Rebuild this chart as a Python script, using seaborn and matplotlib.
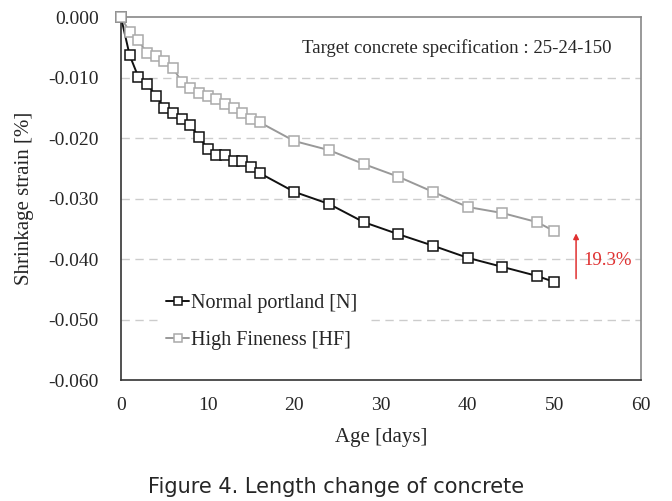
import matplotlib
matplotlib.use("Agg")
import matplotlib.pyplot as plt
import seaborn as sns
import pandas as pd

# Shrinkage data
ageDays = [0, 1, 2, 3, 4, 5, 6, 7, 8, 9, 10, 11, 12, 13, 14, 15, 16,
           20, 24, 28, 32, 36, 40, 44, 48, 50]
normalStrain = [0.0, -0.0063, -0.0099, -0.0110, -0.0130, -0.0150, -0.0159, -0.0169,
                -0.0179, -0.0198, -0.0218, -0.0228, -0.0228, -0.0238, -0.0238,
                -0.0248, -0.0258, -0.0289, -0.0309, -0.0339, -0.0359, -0.0378,
                -0.0398, -0.0413, -0.0428, -0.0438]
highFineStrain = [0.0, -0.0025, -0.0038, -0.0060, -0.0065, -0.0073, -0.0084, -0.0107,
                  -0.0118, -0.0126, -0.0131, -0.0136, -0.0144, -0.0150, -0.0159,
                  -0.0169, -0.0174, -0.0205, -0.0220, -0.0243, -0.0264, -0.0289,
                  -0.0314, -0.0324, -0.0339, -0.0354]
seriesNames = ["Normal portland [N]", "High Fineness [HF]"]
seriesColors = ["#111111", "#999999"]
markerEdges = ["#111111", "#aaaaaa"]
yTicks = [0.0, -0.01, -0.02, -0.03, -0.04, -0.05, -0.06]
xTicks = [0, 10, 20, 30, 40, 50, 60]
diffLabel = "19.3%"

sns.set_style("white")
plt.rcParams["font.family"] = ["Liberation Serif", "DejaVu Serif"]

df = pd.DataFrame({
    "age": ageDays * 2,
    "strain": normalStrain + highFineStrain,
    "series": [seriesNames[0]] * len(ageDays) + [seriesNames[1]] * len(ageDays),
})

fig = plt.figure(figsize=(6.72, 5.01), dpi=100)
ax = fig.add_axes([0.180, 0.2415, 0.774, 0.7245])

for name, col, edge in zip(seriesNames, seriesColors, markerEdges):
    sub = df[df["series"] == name]
    sns.lineplot(data=sub, x="age", y="strain", ax=ax, color=col, marker="s",
                 markersize=6.5, markerfacecolor="white", markeredgecolor=edge,
                 markeredgewidth=1.1, linewidth=1.4, label=name, sort=False,
                 clip_on=False, zorder=3)

ax.set_xlim(0, 60)
ax.set_ylim(-0.06, 0.0)
ax.set_xticks(xTicks)
ax.set_yticks(yTicks)
ax.set_yticklabels([f"{v:.3f}" if v != 0 else "0.000" for v in yTicks])
ax.tick_params(direction="in", length=5, labelsize=14, color="#333333")
ax.tick_params(axis="y", pad=16)
ax.tick_params(axis="x", pad=12)
ax.set_xlabel("Age [days]", fontsize=15, labelpad=10)
ax.set_ylabel("Shrinkage strain [%]", fontsize=15, labelpad=10)

for yv in yTicks[1:-1]:
    ax.axhline(yv, color="#cccccc", linestyle=(0, (6, 4)), linewidth=1, zorder=0)

ax.spines["left"].set_color("#333333")
ax.spines["bottom"].set_color("#333333")
ax.spines["top"].set_color("#888888")
ax.spines["right"].set_color("#888888")
for s in ax.spines.values():
    s.set_linewidth(1.2)

handles, labels = ax.get_legend_handles_labels()
leg = ax.legend(handles, labels, loc="upper left",
                bbox_to_anchor=(0.072, 0.26), frameon=True, fontsize=14.5,
                handlelength=1.1, handletextpad=0.1, labelspacing=0.9,
                borderaxespad=0, borderpad=0.4, markerscale=0.85)
leg.get_frame().set_edgecolor("white")
leg.get_frame().set_facecolor("white")
leg.get_frame().set_alpha(1)
leg.set_zorder(5)

ax.text(0.944, 0.915, "Target concrete specification : 25-24-150",
        transform=ax.transAxes, ha="right", va="center", fontsize=13.5)

ax.annotate("", xy=(52.5, -0.0353), xytext=(52.5, -0.0437),
            arrowprops=dict(arrowstyle="-|>", color="#e03030", lw=1.1,
                            mutation_scale=8))
ax.text(53.3, -0.0402, diffLabel, color="#e03030", fontsize=13.5, va="center")

fig.text(0.5, 0.027, "Figure 4. Length change of concrete", ha="center",
         va="center", fontsize=15, family=["DejaVu Sans"])

fig.savefig("out.png", dpi=100)
